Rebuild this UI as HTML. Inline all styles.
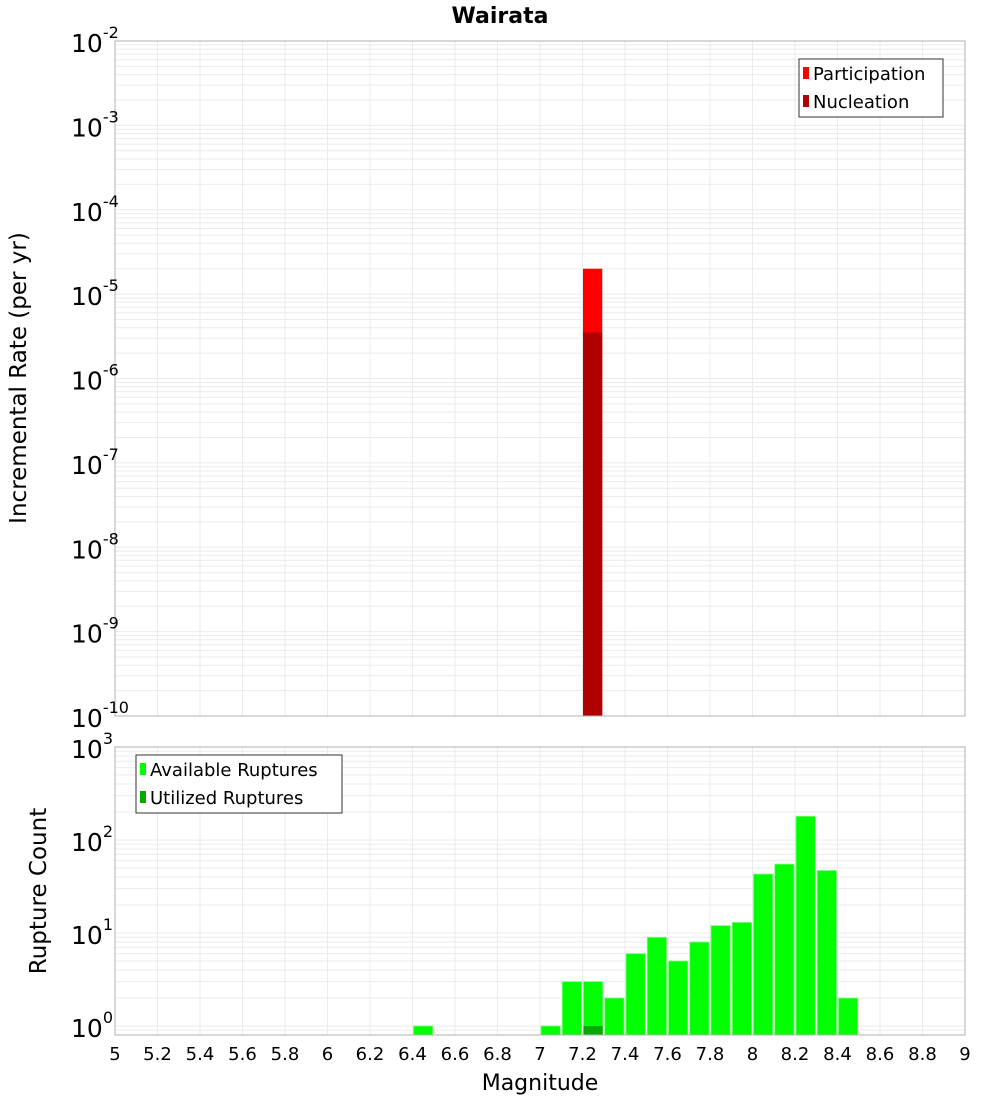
<!DOCTYPE html>
<html><head><meta charset="utf-8"><style>
body{margin:0;background:#fff;font-family:"Liberation Sans","DejaVu Sans",sans-serif}
svg text{font-family:"DejaVu Sans","Liberation Sans",sans-serif}
</style></head><body>
<svg id="c" width="1000" height="1100" xmlns="http://www.w3.org/2000/svg"></svg>
<script>
const topBins=[7.25];
const partRates=[2.0e-5];
const nuclRates=[3.5e-6];
const botBins=[6.45,7.05,7.15,7.25,7.35,7.45,7.55,7.65,7.75,7.85,7.95,8.05,8.15,8.25,8.35,8.45];
const availCounts=[1,1,3,3,2,6,9,5,8,12,13,43,55,180,47,2];
const utilBins=[7.25];
const utilCounts=[1];
const xTicks=[5,5.2,5.4,5.6,5.8,6,6.2,6.4,6.6,6.8,7,7.2,7.4,7.6,7.8,8,8.2,8.4,8.6,8.8,9];
const xTickLabels=["5","5.2","5.4","5.6","5.8","6","6.2","6.4","6.6","6.8","7","7.2","7.4","7.6","7.8","8","8.2","8.4","8.6","8.8","9"];
const topExps=[-2,-3,-4,-5,-6,-7,-8,-9,-10];
const botExps=[3,2,1,0];

const svg=document.getElementById('c');const NS='http://www.w3.org/2000/svg';
function el(t,a,p){const e=document.createElementNS(NS,t);for(const k in a)e.setAttribute(k,a[k]);(p||svg).appendChild(e);return e;}
const X0=115,X1=965;
const xs=v=>X0+(v-5)/4*(X1-X0);
const T0=41,T1=716;
const yt=v=>T0+(-2-Math.log10(v))/8*(T1-T0);
const B0=747,B1=1035,BPD=93;
const yb=v=>1026-Math.log10(v)*BPD;

function grid(y0,y1,ymap,eLo,eHi){
  const g=el('g',{});
  
  for(let e=eLo;e<eHi;e++)for(let m=1;m<10;m++){const y=ymap(m*Math.pow(10,e));if(y<y0-0.5||y>y1+0.5)continue;el('line',{x1:X0,x2:X1,y1:y,y2:y,stroke:'#ebebeb','stroke-width':1},g);}
  xTicks.forEach(t=>{const x=xs(t);el('line',{x1:x,x2:x,y1:y0,y2:y1,stroke:'#ebebeb','stroke-width':1},g);});
}
// title
let t=el('text',{x:500,y:23,'text-anchor':'middle','font-size':22,'font-weight':'bold'});t.textContent='Wairata';


// top plot
el('rect',{x:X0,y:T0,width:X1-X0,height:T1-T0,fill:'#fff'});
grid(T0,T1,yt,-10,-2);
topBins.forEach((b,i)=>{
  const r=el('rect',{x:xs(b-0.05)+0.5,y:yt(partRates[i]),width:xs(b+0.05)-xs(b-0.05)-2,height:T1-yt(partRates[i]),fill:'#ff0000'});
  
  const n=el('rect',{x:xs(b-0.05)+0.5,y:yt(nuclRates[i]),width:xs(b+0.05)-xs(b-0.05)-2,height:T1-yt(nuclRates[i]),fill:'#b00000'});
  
});
el('rect',{x:X0,y:T0,width:X1-X0,height:T1-T0,fill:'none',stroke:'#b0b0b0'});
topExps.forEach(e=>{const y=yt(Math.pow(10,e));const tx=el('text',{x:71,y:y+11,'font-size':25});tx.textContent='10';
  const s=el('tspan',{dy:-14,'font-size':16});s.textContent=String(e);tx.appendChild(s);
  });
t=el('text',{x:0,y:0,'font-size':23,'text-anchor':'middle',transform:'translate(26,378) rotate(-90)'});t.textContent='Incremental Rate (per yr)';

// top legend
let lg=el('g',{});
el('rect',{x:799,y:59,width:144,height:58,fill:'#fff',stroke:'#333'},lg);
el('rect',{x:803,y:67,width:6,height:12,fill:'#ff0000'},lg);
el('rect',{x:803,y:95,width:6,height:12,fill:'#b00000'},lg);
t=el('text',{x:813,y:80,'font-size':18},lg);t.textContent='Participation';
t=el('text',{x:813,y:108,'font-size':18},lg);t.textContent='Nucleation';

// bottom plot
grid(B0,B1,yb,-1,3);
botBins.forEach((b,i)=>{const y=yb(availCounts[i]);
  const r=el('rect',{x:xs(b-0.05)+1,y:y,width:xs(b+0.05)-xs(b-0.05)-2,height:B1-y,fill:'#00ff00',stroke:'#7dff7d','stroke-width':0.8});
  });
utilBins.forEach((b,i)=>{const y=yb(utilCounts[i]);
  const r=el('rect',{x:xs(b-0.05)+1,y:y,width:xs(b+0.05)-xs(b-0.05)-2,height:B1-y,fill:'#00aa00'});
  });
el('rect',{x:X0,y:B0,width:X1-X0,height:B1-B0,fill:'none',stroke:'#b0b0b0'});
botExps.forEach(e=>{const y=yb(Math.pow(10,e));const tx=el('text',{x:71,y:y+11,'font-size':25});tx.textContent='10';
  const s=el('tspan',{dy:-14,'font-size':16});s.textContent=String(e);tx.appendChild(s);
  });
t=el('text',{x:0,y:0,'font-size':23,'text-anchor':'middle',transform:'translate(46,891) rotate(-90)'});t.textContent='Rupture Count';

lg=el('g',{});
el('rect',{x:136,y:755,width:206,height:58,fill:'#fff',stroke:'#333'},lg);
el('rect',{x:140,y:763,width:6,height:12,fill:'#00ff00'},lg);
el('rect',{x:140,y:791,width:6,height:12,fill:'#00aa00'},lg);
t=el('text',{x:150,y:776,'font-size':18},lg);t.textContent='Available Ruptures';
t=el('text',{x:150,y:804,'font-size':18},lg);t.textContent='Utilized Ruptures';

xTicks.forEach((v,i)=>{const tx=el('text',{x:xs(v),y:1060,'font-size':18,'text-anchor':'middle'});tx.textContent=xTickLabels[i];
  });
t=el('text',{x:540,y:1090,'font-size':22,'text-anchor':'middle'});t.textContent='Magnitude';

</script>
</body></html>
